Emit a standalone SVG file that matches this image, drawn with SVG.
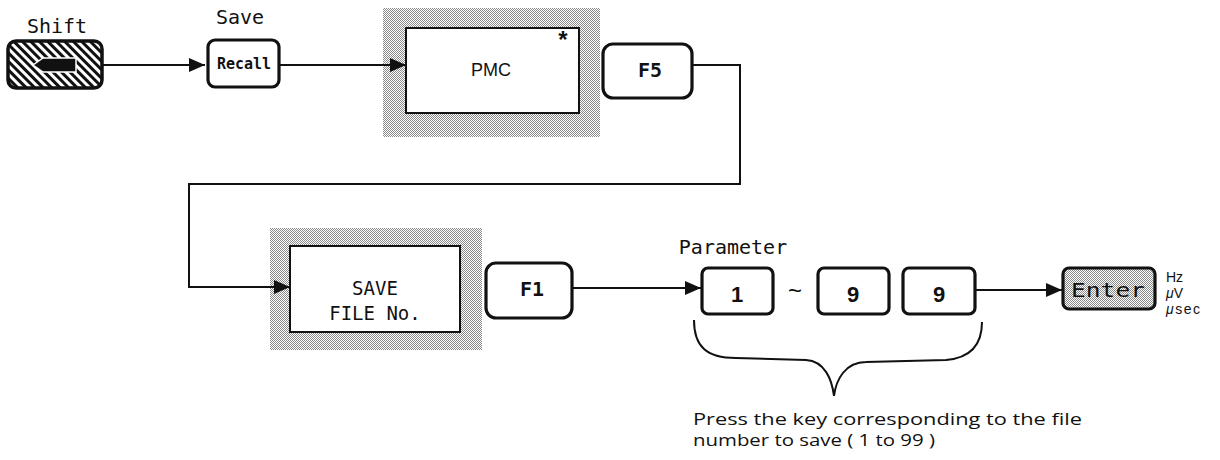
<svg xmlns="http://www.w3.org/2000/svg" width="1220" height="460" viewBox="0 0 1220 460">
<style>
.bg{fill:#fff}
.key{fill:#fff;stroke:#111;stroke-width:3.2}
.keyS{fill:url(#stip);stroke:#111;stroke-width:3.2}
.frame{fill:url(#stip);stroke:none}
.panel{fill:#fff;stroke:#111;stroke-width:2}
.mono{font-family:"DejaVu Sans Mono","Liberation Mono",monospace;fill:#111}
.sans{font-family:"Liberation Sans","DejaVu Sans",Arial,sans-serif;fill:#111}
.unit{font-family:"Liberation Sans","DejaVu Sans",Arial,sans-serif;fill:#111;font-size:14px}
.note{font-family:"Open Sans","Noto Sans","Liberation Sans",sans-serif;fill:#111;font-size:17px}
.line{fill:none;stroke:#111;stroke-width:2}
</style>
<defs>
<pattern id="stip" width="2" height="2" patternUnits="userSpaceOnUse">
<rect width="2" height="2" fill="#fff"/>
<rect x="0" y="0" width="1" height="1" fill="#8a8a8a"/>
<rect x="1" y="1" width="1" height="1" fill="#8a8a8a"/>
</pattern>
<pattern id="hatch" width="6" height="6" patternUnits="userSpaceOnUse" patternTransform="rotate(45)">
<rect width="6" height="6" fill="#fff"/>
<rect width="6" height="3" fill="#111"/>
</pattern>
<marker id="arr" markerUnits="userSpaceOnUse" markerWidth="16" markerHeight="14" refX="16" refY="7" orient="auto">
<path d="M0,0 L16,7 L0,14 Z" fill="#111"/>
</marker>
</defs>
<rect class="bg" width="1220" height="460"/>

<g id="shift">
<text class="mono" x="57" y="33" font-size="20" text-anchor="middle">Shift</text>
<rect x="8" y="41" width="94" height="47" rx="8" fill="url(#hatch)" stroke="#111" stroke-width="3.5"/>
<path d="M33,65 L43,58 L76,58 L76,72 L43,72 Z" fill="#111" stroke="#fff" stroke-width="1.5"/>
</g>

<g id="recall">
<text class="mono" x="240" y="24" font-size="20" text-anchor="middle">Save</text>
<rect class="key" x="208" y="40" width="71" height="47" rx="7"/>
<text class="mono" x="244" y="69" font-size="15" font-weight="bold" text-anchor="middle">Recall</text>
</g>

<g id="pmc">
<rect class="frame" x="383" y="8" width="217" height="129"/>
<rect class="panel" x="406" y="28" width="173" height="85"/>
<text class="sans" x="491" y="76" font-size="18" text-anchor="middle">PMC</text>
<text class="sans" x="563" y="48" font-size="24" font-weight="bold" text-anchor="middle">*</text>
</g>

<g id="f5">
<rect class="key" x="603" y="44" width="89" height="54" rx="10"/>
<text class="mono" x="650" y="77" font-size="20" font-weight="bold" text-anchor="middle">F5</text>
</g>

<g id="save-file">
<rect class="frame" x="270" y="228" width="212" height="122"/>
<rect class="panel" x="290" y="246" width="170" height="86"/>
<text class="mono" x="375" y="295" font-size="19" text-anchor="middle">SAVE</text>
<text class="mono" x="375" y="320" font-size="19" text-anchor="middle">FILE No.</text>
</g>

<g id="f1">
<rect class="key" x="486" y="263" width="86" height="55" rx="10"/>
<text class="mono" x="532" y="296" font-size="20" font-weight="bold" text-anchor="middle">F1</text>
</g>

<g id="key1">
<text class="mono" x="733" y="254" font-size="20" text-anchor="middle">Parameter</text>
<rect class="key" x="702" y="268" width="71" height="46" rx="6"/>
<text class="sans" x="737" y="302" font-size="22" font-weight="bold" text-anchor="middle">1</text>
</g>

<text class="sans" x="795" y="299" font-size="24" text-anchor="middle">~</text>

<g id="key9a">
<rect class="key" x="818" y="268" width="71" height="46" rx="6"/>
<text class="sans" x="853" y="302" font-size="22" font-weight="bold" text-anchor="middle">9</text>
</g>

<g id="key9b">
<rect class="key" x="903" y="268" width="72" height="46" rx="6"/>
<text class="sans" x="939" y="302" font-size="22" font-weight="bold" text-anchor="middle">9</text>
</g>

<g id="enter">
<rect class="keyS" x="1063" y="268" width="92" height="41" rx="6"/>
<text class="mono" x="1108" y="297" font-size="20" text-anchor="middle" textLength="74" lengthAdjust="spacingAndGlyphs" fill="#222">Enter</text>
<text class="unit" x="1166" y="282">Hz</text>
<text class="unit" x="1166" y="298"><tspan font-style="italic">μ</tspan>V</text>
<text class="unit" x="1166" y="314" letter-spacing="1.5"><tspan font-style="italic">μ</tspan>sec</text>
</g>

<g id="note">
<path class="line" d="M694,320 C694,346 706,358 736,358 L806,360 C825,361 832,380 834,396 C836,380 845,362 866,362 L946,360 C970,358 982,345 982,322"/>
<text class="note" x="693" y="425" textLength="389" lengthAdjust="spacingAndGlyphs">Press the key corresponding to the file</text>
<text class="note" x="693" y="446" textLength="242" lengthAdjust="spacingAndGlyphs">number to save ( 1 to 99 )</text>
</g>

<g id="connectors">
<path class="line" d="M102,65 L205,65" marker-end="url(#arr)"/>
<path class="line" d="M280,65 L406,65" marker-end="url(#arr)"/>
<path class="line" d="M692,65 L740,65 L740,184 L189,184 L189,287 L290,287" marker-end="url(#arr)"/>
<path class="line" d="M572,288 L701,288" marker-end="url(#arr)"/>
<path class="line" d="M975,290 L1062,290" marker-end="url(#arr)"/>
</g>
</svg>
